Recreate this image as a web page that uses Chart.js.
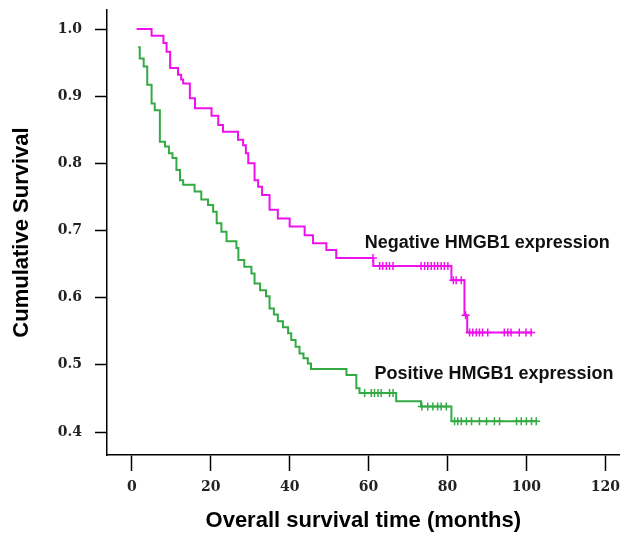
<!DOCTYPE html>
<html>
<head>
<meta charset="utf-8">
<script src="https://cdn.jsdelivr.net/npm/chart.js@4.4.1/dist/chart.umd.min.js"></script>
<style>
    body { margin: 0; background: #fff; }
    #wrap { width: 625px; height: 536px; }
</style>
</head>
<body>
<div id="wrap"><canvas id="chart" width="625" height="536"></canvas></div>
<script>
// Negative HMGB1 expression: times (months) where the curve drops, and the survival after the drop.
var negTime = [1.2, 5.0, 8.0, 8.8, 9.7, 11.7, 12.5, 13.0, 14.7, 16.0, 20.2, 21.9, 23.1, 26.9, 28.2, 28.9, 29.5, 31.1, 32.0, 33.0, 34.9, 37.0, 40.0, 43.8, 45.9, 49.3, 51.8, 61.2, 81.0, 84.3, 85.0, 101.5];
var negSurv = [1.0, 0.99, 0.979, 0.966, 0.942, 0.932, 0.925, 0.919, 0.897, 0.882, 0.871, 0.857, 0.847, 0.835, 0.827, 0.815, 0.80, 0.775, 0.765, 0.753, 0.731, 0.718, 0.706, 0.693, 0.681, 0.671, 0.659, 0.647, 0.626, 0.574, 0.548, 0.548];
var negCensor = [61.1, 62.8, 63.6, 64.5, 65.3, 66.2, 73.3, 74.2, 75.0, 75.9, 76.7, 77.5, 78.4, 79.2, 80.1, 81.5, 82.2, 83.5, 84.6, 85.6, 86.4, 87.3, 88.1, 88.9, 90.2, 94.4, 95.3, 96.1, 98.2, 99.9, 101.2];

// Positive HMGB1 expression
var posTime = [1.6, 2.0, 3.0, 3.9, 5.0, 5.8, 7.1, 8.4, 9.4, 10.3, 11.3, 12.2, 13.0, 15.9, 17.6, 19.3, 20.6, 21.5, 22.7, 24.0, 26.5, 27.0, 28.5, 30.3, 31.1, 32.5, 34.0, 34.9, 36.0, 37.0, 38.3, 39.6, 40.4, 41.5, 42.5, 43.5, 44.6, 45.4, 54.4, 56.9, 57.7, 67.0, 73.3, 81.0, 102.5];
var posSurv = [0.973, 0.956, 0.944, 0.917, 0.889, 0.879, 0.832, 0.825, 0.815, 0.808, 0.79, 0.775, 0.768, 0.758, 0.746, 0.738, 0.728, 0.711, 0.698, 0.684, 0.674, 0.656, 0.646, 0.636, 0.621, 0.611, 0.602, 0.584, 0.575, 0.565, 0.556, 0.547, 0.537, 0.527, 0.517, 0.51, 0.502, 0.494, 0.485, 0.465, 0.458, 0.446, 0.438, 0.416, 0.416];
var posCensor = [59.0, 60.7, 61.5, 62.4, 63.2, 65.3, 66.2, 73.5, 75.0, 76.3, 77.5, 78.4, 79.7, 81.8, 82.6, 83.5, 84.8, 86.1, 88.1, 89.9, 91.9, 93.2, 97.5, 98.7, 100.0, 101.3, 102.5];

// Axis ticks
var xTicks = [0, 20, 40, 60, 80, 100, 120];
var yTicks = [0.4, 0.5, 0.6, 0.7, 0.8, 0.9, 1.0];

// Curve labels written inside the plot
var labelText = ["Negative HMGB1 expression", "Positive HMGB1 expression"];
var labelTime = [59.0, 61.5];
var labelSurv = [0.682, 0.487];

var negColor = "#ee11ee";
var posColor = "#33aa44";
var tickFont = { family: "'DejaVu Serif', serif", size: 14, weight: "bold" };
var titleFont = { family: "'Liberation Sans', Arial, sans-serif", size: 22, weight: "bold" };

function toPoints(times, values) {
    // Pair each time with its survival value.
    var points = [];
    for (var i = 0; i < times.length; ++i) {
        points.push({ x: times[i], y: values[i] });
    }
    return points;
}

function survivalAt(times, values, t) {
    // Look up the curve value in force at time t (for censor marks).
    var value = values[0];
    for (var i = 0; i < times.length; ++i) {
        if (times[i] <= t) {
            value = values[i];
        }
    }
    return value;
}

function censorPoints(times, values, censored) {
    var points = [];
    for (var i = 0; i < censored.length; ++i) {
        points.push({ x: censored[i], y: survivalAt(times, values, censored[i]) });
    }
    return points;
}

var curveLabels = {
    id: "curveLabels",
    afterDatasetsDraw: function (chart) {
        var ctx = chart.ctx;
        var xScale = chart.scales.x;
        var yScale = chart.scales.y;
        ctx.save();
        ctx.font = "bold 18px 'Liberation Sans', Arial, sans-serif";
        ctx.fillStyle = "#111";
        ctx.textAlign = "left";
        ctx.textBaseline = "middle";
        for (var i = 0; i < labelText.length; ++i) {
            ctx.fillText(labelText[i], xScale.getPixelForValue(labelTime[i]), yScale.getPixelForValue(labelSurv[i]));
        }
        ctx.restore();
    }
};

function drawSurvival(canvas) {
    new Chart(canvas, {
        type: "line",
        data: {
            datasets: [
                {
                    label: "Negative",
                    data: toPoints(negTime, negSurv),
                    borderColor: negColor,
                    borderWidth: 2,
                    stepped: true,
                    pointRadius: 0,
                    fill: false
                },
                {
                    label: "Negative censored",
                    data: censorPoints(negTime, negSurv, negCensor),
                    showLine: false,
                    pointStyle: "cross",
                    pointRadius: 4,
                    borderColor: negColor,
                    borderWidth: 1.5
                },
                {
                    label: "Positive",
                    data: toPoints(posTime, posSurv),
                    borderColor: posColor,
                    borderWidth: 2,
                    stepped: true,
                    pointRadius: 0,
                    fill: false
                },
                {
                    label: "Positive censored",
                    data: censorPoints(posTime, posSurv, posCensor),
                    showLine: false,
                    pointStyle: "cross",
                    pointRadius: 4,
                    borderColor: posColor,
                    borderWidth: 1.5
                }
            ]
        },
        options: {
            responsive: false,
            animation: false,
            devicePixelRatio: 1,
            layout: { padding: { top: 10, right: 0, bottom: 0, left: 0 } },
            plugins: {
                legend: { display: false },
                tooltip: { enabled: false }
            },
            scales: {
                x: {
                    type: "linear",
                    min: -6.3,
                    max: 123.6,
                    border: { display: true, color: "#000", width: 1.5 },
                    grid: { drawOnChartArea: false, drawTicks: true, tickLength: 16, tickColor: "#000", tickWidth: 1.5 },
                    afterBuildTicks: function (scale) {
                        scale.ticks = xTicks.map(function (v) { return { value: v }; });
                    },
                    afterFit: function (scale) {
                        scale.height = 81;
                        scale.paddingLeft = 0;
                        scale.paddingRight = 0;
                    },
                    ticks: { font: tickFont, color: "#222", padding: 8, maxRotation: 0, autoSkip: false },
                    title: { display: true, text: "Overall survival time (months)", font: titleFont, color: "#000", padding: { top: 0, bottom: 2 } }
                },
                y: {
                    type: "linear",
                    min: 0.3658,
                    max: 1.0283,
                    border: { display: true, color: "#000", width: 1.5 },
                    grid: { drawOnChartArea: false, drawTicks: true, tickLength: 12, tickColor: "#000", tickWidth: 1.5 },
                    afterBuildTicks: function (scale) {
                        scale.ticks = yTicks.map(function (v) { return { value: v }; });
                    },
                    afterFit: function (scale) {
                        scale.width = 107;
                        scale.paddingTop = 0;
                        scale.paddingBottom = 0;
                    },
                    ticks: {
                        font: tickFont,
                        color: "#222",
                        padding: 13,
                        autoSkip: false,
                        callback: function (value) { return value.toFixed(1); }
                    },
                    title: { display: true, text: "Cumulative Survival", font: titleFont, color: "#000", padding: { top: 9, bottom: 0 } }
                }
            }
        },
        plugins: [curveLabels]
    });
}

drawSurvival(document.getElementById("chart"));
</script>
</body>
</html>
